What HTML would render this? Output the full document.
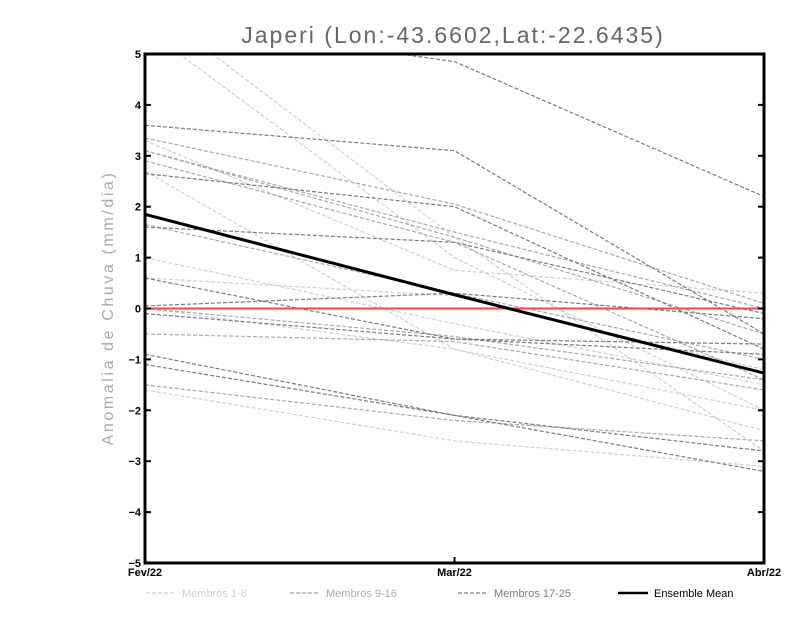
<!DOCTYPE html>
<html><head><meta charset="utf-8"><style>
body{margin:0;background:#fff;width:800px;height:618px;overflow:hidden}
svg{display:block;font-family:"Liberation Sans",sans-serif}
</style></head><body>
<svg id="c" width="800" height="618">
<defs><clipPath id="clip"><rect x="145" y="54" width="619" height="509"/></clipPath></defs>
<text x="453" y="43" font-size="23" fill="#666" text-anchor="middle" letter-spacing="2">Japeri (Lon:-43.6602,Lat:-22.6435)</text>
<text transform="translate(113,308) rotate(-90)" font-size="16" fill="#aaa" text-anchor="middle" letter-spacing="2.6">Anomalia de Chuva (mm/dia)</text>
<g id="lines" clip-path="url(#clip)"></g>
<g id="axes"></g>
</svg>
<script>
const categories=["Fev/22","Mar/22","Abr/22"];
const yTicks=[-5,-4,-3,-2,-1,0,1,2,3,4,5];
const members1to8=[[6.0,1.4,-2.8],[5.5,1.0,-2.0],[3.3,0.75,0.3],[1.0,-0.3,-1.5],[0.6,0.25,-1.2],[-1.6,-2.6,-3.1],[2.7,-0.8,-2.0],[0.0,-0.8,-2.4]];
const members9to16=[[3.35,2.05,0.1],[3.1,1.4,-0.5],[1.65,0.3,-1.0],[0.0,-0.55,-1.4],[-0.5,-0.65,-1.6],[-1.5,-2.2,-2.6],[2.9,1.3,-1.4],[3.1,1.5,0.0]];
const members17to25=[[5.7,4.85,2.2],[3.6,3.1,-0.5],[2.65,2.0,-0.8],[1.6,1.3,-0.1],[0.05,0.3,-0.2],[-0.1,-0.6,-0.9],[-1.1,-2.1,-2.8],[-0.9,-2.1,-3.2],[0.6,-0.6,-0.7]];
const ensembleMean=[1.85,0.27,-1.27];
const NS="http://www.w3.org/2000/svg";
const X0=145,X1=764,Y0=54,Y1=563;
const xs=i=>X0+i*(X1-X0)/(categories.length-1);
const ys=v=>Y1-(v+5)*(Y1-Y0)/10;
const L=document.getElementById('lines'),A=document.getElementById('axes');
function mk(t,a,p){const e=document.createElementNS(NS,t);for(const k in a)e.setAttribute(k,a[k]);p.appendChild(e);return e;}
function poly(vals,stroke,w,dash,name){
 const e=mk('polyline',{points:vals.map((v,i)=>xs(i)+','+ys(v)).join(' '),fill:'none',stroke:stroke,'stroke-width':w,'stroke-dasharray':dash},L);
 
 
}
members1to8.forEach((s,i)=>poly(s,'#cfcfcf',1.2,'4,2','member-'+(i+1)));
members9to16.forEach((s,i)=>poly(s,'#a8a8a8',1.2,'4,2','member-'+(i+9)));
members17to25.forEach((s,i)=>poly(s,'#7a7a7a',1.2,'4,2','member-'+(i+17)));
const z=mk('line',{x1:X0,x2:X1,y1:ys(0),y2:ys(0),stroke:'#f44',"stroke-width":2},L);


poly(ensembleMean,'#000',3,'none','ensemble-mean-line');
const fr=mk('rect',{x:X0,y:Y0,width:X1-X0,height:Y1-Y0,fill:'none',stroke:'#000','stroke-width':3},A);


yTicks.forEach(v=>{
 mk('line',{x1:X0,x2:X0+6,y1:ys(v),y2:ys(v),stroke:'#000','stroke-width':2},A);
 mk('line',{x1:X1,x2:X1-6,y1:ys(v),y2:ys(v),stroke:'#000','stroke-width':2},A);
 const t=mk('text',{x:X0-4,y:ys(v)+4,'font-size':11,'font-weight':'bold','text-anchor':'end'},A);t.textContent=String(v).replace('-','\u2212');
 
 
});
categories.forEach((c,i)=>{
 mk('line',{x1:xs(i),x2:xs(i),y1:Y1,y2:Y1-6,stroke:'#000','stroke-width':2},A);
 const t=mk('text',{x:xs(i),y:Y1+13,'font-size':11,'font-weight':'bold','text-anchor':'middle'},A);t.textContent=c;
 
 
});
const leg=[['Membros 1-8','#cfcfcf','4,2',1.2,146],['Membros 9-16','#a8a8a8','4,2',1.2,290],['Membros 17-25','#7a7a7a','4,2',1.2,458],['Ensemble Mean','#000','none',2.5,618]];
leg.forEach(l=>{
 const g=mk('g',{},A);
 
 
 mk('line',{x1:l[4],x2:l[4]+30,y1:593,y2:593,stroke:l[1],'stroke-width':l[3],'stroke-dasharray':l[2]},g);
 const t=mk('text',{x:l[4]+36,y:597,'font-size':11,fill:l[1]==='#000'?'#000':l[1]},g);t.textContent=l[0];
});
</script>
</body></html>
